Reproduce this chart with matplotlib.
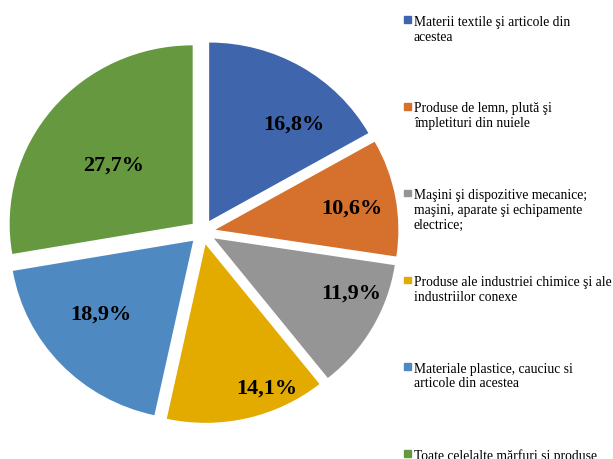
import numpy as np
import matplotlib
matplotlib.use("Agg")
import matplotlib.pyplot as plt
from matplotlib.patches import Rectangle

# shares of exports by product group (%)
categories = [
    "Materii textile şi articole din\nacestea",
    "Produse de lemn, plută şi\nîmpletituri din nuiele",
    "Maşini şi dispozitive mecanice;\nmaşini, aparate şi echipamente\nelectrice;",
    "Produse ale industriei chimice şi ale\nindustriilor conexe",
    "Materiale plastice, cauciuc si\narticole din acestea",
    "Toate celelalte mărfuri şi produse",
]
shares = [16.8, 10.6, 11.9, 14.1, 18.9, 27.7]
colors = ["#3F65AD", "#D5702D", "#959595", "#E3AA00", "#4E89C2", "#66993F"]

# label placement tweaks (angle offset from wedge middle, distance as fraction of radius)
label_shift = [-10.2, -1.5, 7.7, 9.3, -4.4, 2.9]
label_dist = [0.71, 0.755, 0.81, 0.876, 0.653, 0.54]

W, H = 613, 459
fig = plt.figure(figsize=(W / 100, H / 100), dpi=100)
ax = fig.add_axes([0, 0, 1, 1])

# pie is drawn slightly wider than tall, like the original
rx, ry = 183, 178.5
cx, cy = 202.6, 232
wedges, _ = ax.pie(shares, colors=colors, startangle=90, counterclock=False,
                   radius=1, explode=[0.071] * len(shares))
ax.set_aspect("auto")
ax.set_xlim(-cx / rx, (W - cx) / rx)
ax.set_ylim(-(H - cy) / ry, cy / ry)
ax.axis("off")

for w, val, dang, dist in zip(wedges, shares, label_shift, label_dist):
    mid = np.radians((w.theta1 + w.theta2) / 2 + dang)
    x0, y0 = w.center
    ax.text(x0 + dist * np.cos(mid), y0 + dist * np.sin(mid),
            f"{val:.1f}%".replace(".", ","), ha="center", va="center",
            fontsize=16, fontweight="bold", family="Liberation Serif")

# legend, drawn by hand so the markers sit on the first text line
y_first, step = 19.7, 86.7
for i, (lab, col) in enumerate(zip(categories, colors)):
    yc = y_first + i * step
    fig.patches.append(Rectangle((404 / W, 1 - (yc + 3.3) / H), 6.5 / W, 6.5 / H,
                                 transform=fig.transFigure, color=col))
    fig.text(414 / W, 1 - (yc - 4.0) / H, lab, ha="left", va="top",
             fontsize=9.8, family="Liberation Serif", linespacing=1.19)

fig.savefig("out.png", dpi=100)
